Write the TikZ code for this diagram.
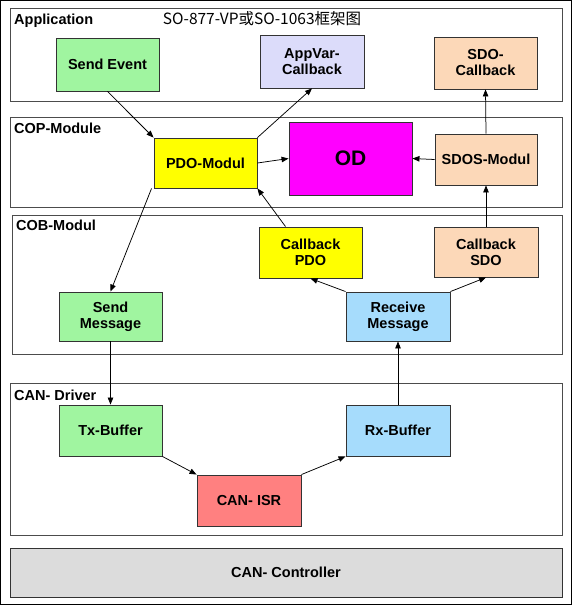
\documentclass[tikz,border=0pt]{standalone}
\usepackage{fontspec}
\setmainfont{Liberation Sans}
\newfontfamily\cjk{Noto Sans CJK SC}
\usetikzlibrary{arrows.meta}
\definecolor{cgreen}{HTML}{A0F5A0}
\definecolor{clav}{HTML}{DCDCFA}
\definecolor{cpeach}{HTML}{FCD8B8}
\definecolor{cyel}{HTML}{FFFF00}
\definecolor{cmag}{HTML}{FF00FF}
\definecolor{cblue}{HTML}{A6DCFC}
\definecolor{cred}{HTML}{FF8080}
\definecolor{cgray}{HTML}{DCDCDC}
\tikzset{
  box/.style={draw=black!80, line width=0.9pt, align=center, inner sep=0pt,
    font=\bfseries\fontsize{14.5}{16}\selectfont},
  layer/.style={draw=black!70, line width=0.8pt, fill=white},
  laylabel/.style={anchor=west, inner sep=0pt, font=\bfseries\fontsize{14.5}{16}\selectfont},
  arr/.style={-{Triangle[length=7pt,width=5.5pt]}, line width=0.75pt, black},
}
\begin{document}
\begin{tikzpicture}[x=1pt,y=-1pt]
\useasboundingbox (0,0) rectangle (572,605);
\fill[white] (0,0) rectangle (572,605);
\draw[black, line width=1.2pt] (0.6,0.6) rectangle (571.4,604.4);
% layers
\draw[layer] (10,8) rectangle (562,101);
\draw[layer] (10,117) rectangle (562,207);
\draw[layer] (12,215) rectangle (562,354);
\draw[layer] (10,383) rectangle (562,535);
\node[box, fill=cgray, minimum width=552pt, minimum height=49pt] (ctrl) at (286,572.5) {CAN- Controller};
% layer labels
\node[laylabel] (lapp) at (14,20.5) {Application};
\node[laylabel] (lcop) at (14,128.5) {COP-Module};
\node[laylabel] (lcob) at (16,225.5) {COB-Modul};
\node[laylabel] (ldrv) at (14,395.5) {CAN- Driver};
\node[inner sep=0pt, font=\cjk\fontsize{15.5}{17}\selectfont] (title) at (262,19) {SO-877-VP或SO-1063框架图};
% boxes
\node[box, fill=cgreen, minimum width=103pt, minimum height=53pt] (sendev) at (107.5,64.5) {Send Event};
\node[box, fill=clav, minimum width=104pt, minimum height=53pt] (appvar) at (312,61.5) {AppVar-\\Callback};
\node[box, fill=cpeach, minimum width=103pt, minimum height=52pt] (sdocb) at (485.5,63) {SDO-\\Callback};
\node[box, fill=cyel, minimum width=103pt, minimum height=50pt] (pdo) at (205.5,163) {PDO-Modul};
\node[box, fill=cmag, minimum width=123pt, minimum height=73pt, font=\bfseries\fontsize{21}{24}\selectfont] (od) at (350.5,158.5) {OD};
\node[box, fill=cpeach, minimum width=102pt, minimum height=51pt] (sdos) at (486,159.5) {SDOS-Modul};
\node[box, fill=cyel, minimum width=103pt, minimum height=51pt] (cbpdo) at (310.5,252.5) {Callback\\PDO};
\node[box, fill=cpeach, minimum width=104pt, minimum height=50pt] (cbsdo) at (486,252) {Callback\\SDO};
\node[box, fill=cgreen, minimum width=103pt, minimum height=49pt] (sendmsg) at (110.5,316.5) {Send\\Message};
\node[box, fill=cblue, minimum width=104pt, minimum height=49pt] (recvmsg) at (398,316.5) {Receive\\Message};
\node[box, fill=cgreen, minimum width=103pt, minimum height=51pt] (tx) at (110.5,430.5) {Tx-Buffer};
\node[box, fill=cblue, minimum width=104pt, minimum height=51pt] (rx) at (398,430.5) {Rx-Buffer};
\node[box, fill=cred, minimum width=104pt, minimum height=51pt] (isr) at (249,500.5) {CAN- ISR};
% arrows
\draw[arr] (sendev.south) -- (pdo.north west);
\draw[arr] (pdo.north east) -- (appvar.south);
\draw[arr] (pdo.east) -- (od.west);
\draw[arr] (sdos.west) -- (od.east);
\draw[arr] (sdos.north) -- (sdocb.south);
\draw[arr] (cbsdo.north) -- (sdos.south);
\draw[arr] ([xshift=-25pt]cbpdo.north) -- (pdo.south east);
\draw[arr] ([xshift=-2pt]pdo.south west) -- (sendmsg.north);
\draw[arr] (recvmsg.north west) -- (cbpdo.south);
\draw[arr] (recvmsg.north east) -- (cbsdo.south);
\draw[arr] (sendmsg.south) -- (tx.north);
\draw[arr] (rx.north) -- (recvmsg.south);
\draw[arr] (tx.south east) -- (isr.north west);
\draw[arr] (isr.north east) -- (rx.south west);
\end{tikzpicture}
\end{document}
